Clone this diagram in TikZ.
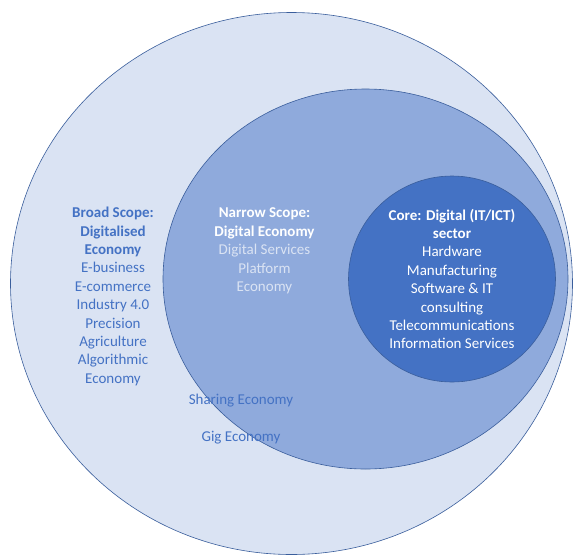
\documentclass[tikz,border=0pt]{standalone}
\usepackage{fontspec}
\setmainfont{Carlito}

\definecolor{outerblue}{HTML}{DAE3F3}
\definecolor{midblue}{HTML}{8FAADC}
\definecolor{coreblue}{HTML}{4472C4}
\definecolor{rimblue}{HTML}{3A5E9C}
\definecolor{paleblue}{HTML}{DAE3F3}

\begin{document}
\begin{tikzpicture}[x=1pt,y=-1pt,
  ring/.style={draw=rimblue,line width=0.6pt},
  scopetext/.style={align=center,inner sep=0pt,font=\fontsize{15}{18.4}\selectfont}]

\useasboundingbox (0,0) rectangle (573,555);
\fill[white] (0,0) rectangle (573,555);

% THE THREE SCOPES

\draw[ring,fill=outerblue] (291.5,283.5) ellipse [x radius=281, y radius=271];
\draw[ring,fill=midblue] (365.5,279) ellipse [x radius=202.5, y radius=190];
\draw[ring,fill=coreblue] (452,279) ellipse [x radius=103.5, y radius=103];

% TEXTS

\node[scopetext,text=coreblue] (broad) at (113,296.5)
  {\textbf{Broad Scope:}\\\textbf{Digitalised}\\\textbf{Economy}\\E-business\\E-commerce\\Industry 4.0\\Precision\\Agriculture\\Algorithmic\\Economy};
\node[scopetext,text=paleblue] (narrow) at (264.5,251)
  {\textcolor{white}{\textbf{Narrow Scope:}}\\\textcolor{white}{\textbf{Digital Economy}}\\Digital Services\\Platform\\Economy};
\node[scopetext,text=white] (core) at (452,279)
  {\textbf{Core: Digital (IT/ICT)}\\\textbf{sector}\\Hardware\\Manufacturing\\Software \& IT\\consulting\\Telecommunications\\Information Services};
\node[scopetext,text=coreblue] (sharing) at (241,401) {Sharing Economy};
\node[scopetext,text=coreblue] (gig) at (241,438) {Gig Economy};

\end{tikzpicture}
\end{document}
